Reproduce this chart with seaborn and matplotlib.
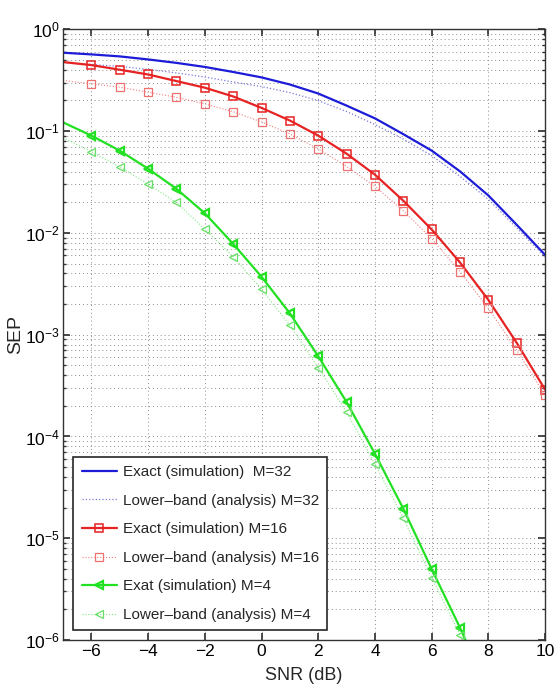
import numpy as np
import matplotlib
matplotlib.use('Agg')
import matplotlib.pyplot as plt
from matplotlib import font_manager
import seaborn as sns

# SNR grid (dB)
snr = [-7, -6, -5, -4, -3, -2, -1, 0, 1, 2, 3, 4, 5, 6, 7, 8, 9, 10]

# M=32
exact_32 = [0.589, 0.567, 0.542, 0.506, 0.468, 0.427, 0.381, 0.337, 0.287, 0.234,
            0.178, 0.1334, 0.0933, 0.0643, 0.0402, 0.0233, 0.0120, 0.00607]
lower_32 = [0.470, 0.452, 0.432, 0.404, 0.373, 0.340, 0.304, 0.274, 0.239, 0.1995,
            0.1556, 0.116, 0.0835, 0.0574, 0.0359, 0.0213, 0.0112, 0.0058]

# M=16
exact_16 = [0.477, 0.445, 0.401, 0.360, 0.310, 0.267, 0.219, 0.169, 0.127, 0.0903,
            0.060, 0.0373, 0.0207, 0.0108, 0.00512, 0.00219, 0.00083, 0.000288]
lower_16 = [0.315, 0.292, 0.270, 0.241, 0.215, 0.185, 0.155, 0.123, 0.0938, 0.0668,
            0.045, 0.0286, 0.0165, 0.00879, 0.00416, 0.00181, 0.000703, 0.000254]

# M=4 (the last point falls below the axis)
exact_4 = [0.122, 0.0903, 0.0643, 0.0427, 0.0271, 0.0156, 0.0078, 0.00371, 0.00162,
           0.000614, 0.000218, 6.76e-5, 1.95e-5, 4.98e-6, 1.32e-6, 3.1e-7]
lower_4 = [0.0863, 0.0628, 0.0444, 0.0302, 0.0199, 0.0109, 0.00585, 0.00279, 0.00124,
           0.000475, 0.000173, 5.38e-5, 1.57e-5, 4.11e-6, 1.12e-6, 2.5e-7]

xticks = [-6, -4, -2, 0, 2, 4, 6, 8, 10]
yticks = [1e-6, 1e-5, 1e-4, 1e-3, 1e-2, 1e-1, 1]

sns.set_theme(style='ticks')

# pick a narrow sans if there is one
fam = 'Liberation Sans'
try:
    font_manager.findfont('Liberation Sans Narrow', fallback_to_default=False)
    fam = 'Liberation Sans Narrow'
except Exception:
    pass
plt.rcParams['font.family'] = [fam, 'DejaVu Sans']
plt.rcParams['mathtext.fontset'] = 'custom'
plt.rcParams['mathtext.rm'] = fam
plt.rcParams['mathtext.it'] = fam
plt.rcParams['mathtext.default'] = 'regular'

fig = plt.figure(figsize=(5.54, 6.98), dpi=100)
ax = fig.add_axes([0.1137, 0.083, 0.8703, 0.875])

blue = '#1c1cd8'
red = '#e62222'
green = '#22e022'

sns.lineplot(x=snr, y=exact_32, ax=ax, color=blue, linewidth=1.6,
             label='Exact (simulation)  M=32')
sns.lineplot(x=snr, y=lower_32, ax=ax, color='#7a7ae0', linewidth=0.9, linestyle=':',
             label='Lower\u2013band (analysis) M=32')
sns.lineplot(x=snr, y=exact_16, ax=ax, color=red, linewidth=1.6, marker='s',
             markersize=5.5, markerfacecolor='none', markeredgecolor=red,
             markeredgewidth=1.1, markevery=slice(1, None),
             label='Exact (simulation) M=16')
sns.lineplot(x=snr, y=lower_16, ax=ax, color='#f08080', linewidth=0.8, linestyle=':',
             marker='s', markersize=5.5, markerfacecolor='none', markeredgecolor='#ee7070',
             markeredgewidth=0.9, markevery=slice(1, None),
             label='Lower\u2013band (analysis) M=16')
sns.lineplot(x=snr[:len(exact_4)], y=exact_4, ax=ax, color=green, linewidth=1.6,
             marker='<', markersize=6, markerfacecolor='none', markeredgecolor=green,
             markeredgewidth=1.6, markevery=slice(1, None),
             label='Exat (simulation) M=4')
sns.lineplot(x=snr[:len(lower_4)], y=lower_4, ax=ax, color='#80e880', linewidth=0.8,
             linestyle=':', marker='<', markersize=6, markerfacecolor='none',
             markeredgecolor='#66e066', markeredgewidth=0.9, markevery=slice(1, None),
             label='Lower\u2013band (analysis) M=4')

ax.set_yscale('log')
ax.set_xlim(-7, 10)
ax.set_ylim(1e-6, 1)
ax.set_xticks(xticks)
ax.set_xticklabels(['\u2212' + str(-t) if t < 0 else str(t) for t in xticks])
ax.set_yticks(yticks)
ax.set_yticklabels(['$10^{%d}$' % int(np.log10(v)) for v in yticks])
minor_y = [m * 10.0 ** e for e in range(-6, 0) for m in range(2, 10)]
ax.set_yticks(minor_y, minor=True)
ax.yaxis.set_minor_formatter(matplotlib.ticker.NullFormatter())

grid_ls = (0, (1, 3))
ax.grid(True, which='major', axis='both', color='0.55', linestyle=grid_ls, linewidth=0.7)
ax.grid(True, which='minor', axis='y', color='0.55', linestyle=grid_ls, linewidth=0.7)

ax.tick_params(which='both', direction='in', top=True, right=True, colors='0.2')
ax.tick_params(which='major', length=5, labelsize=12.5, labelcolor='black', pad=2.5)
ax.tick_params(which='minor', length=2.5)
for s in ax.spines.values():
    s.set_color('0.2')
    s.set_linewidth(1.0)

ax.set_xlabel('SNR (dB)', fontsize=13, labelpad=6)
ax.set_ylabel('SEP', fontsize=14)
ax.yaxis.set_label_coords(-0.08, 0.5)

leg = ax.legend(loc='lower left', bbox_to_anchor=(0.021, 0.016), fontsize=11,
                frameon=True, fancybox=False, framealpha=1, edgecolor='0.15',
                handlelength=2.3, handletextpad=0.4, labelspacing=0.95, borderpad=0.55,
                borderaxespad=0)
leg.get_frame().set_linewidth(1.2)

fig.savefig('out.png', dpi=100)
